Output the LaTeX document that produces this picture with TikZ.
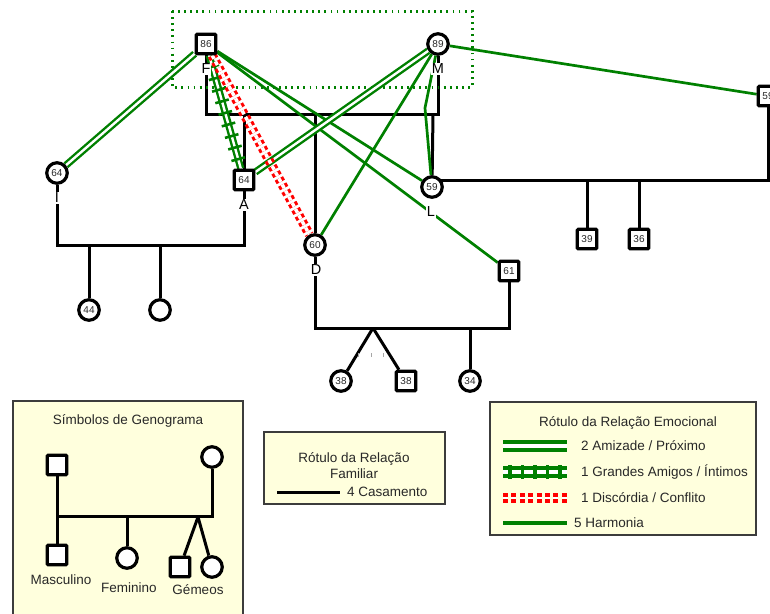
\documentclass[tikz,border=0pt]{standalone}
\usepackage{fontspec}
\setmainfont{Liberation Sans}
\usetikzlibrary{backgrounds,decorations.markings}
\definecolor{gr}{RGB}{0,128,0}
\definecolor{rd}{RGB}{255,0,0}
\definecolor{beige}{RGB}{255,255,221}
\definecolor{bord}{RGB}{60,60,60}
\definecolor{txt}{RGB}{40,40,40}
\tikzset{
  male/.style={draw, line width=3.2pt, fill=white, minimum size=19.5pt, inner sep=0pt,
    rounded corners=1pt, font=\fontsize{10}{10}\selectfont, text=txt},
  female/.style={male, circle, minimum size=20.5pt},
  lbl/.style={fill=white, inner sep=0.6pt, font=\fontsize{14.5}{15}\selectfont},
  fam/.style={line width=3pt, black},
  harm/.style={draw=gr, line width=2.7pt},
  closerel/.style={draw=gr, line width=2.4pt, double=white, double distance=2.4pt},
  closeleg/.style={draw=gr, line width=3.3pt, double=white, double distance=4.6pt},
  discord/.style={draw=rd, line width=3pt, double=white, double distance=3.4pt, dash pattern=on 4pt off 3pt},
  discleg/.style={draw=rd, line width=3.3pt, double=white, double distance=2.8pt, dash pattern=on 5pt off 3.4pt},
  hatchmarks/.style={decorate, decoration={markings,
      mark=between positions 0.1 and 0.92 step 12pt with {\fill[gr] (-1.3pt,-7pt) rectangle (1.3pt,7pt);}}},
  legbox/.style={draw=bord, line width=1.3pt, fill=beige},
  legtxt/.style={font=\fontsize{13.5}{16}\selectfont, text=txt, inner sep=0pt},
}
\begin{document}
\begin{tikzpicture}[x=1pt,y=-1pt]
\useasboundingbox (0,0) rectangle (770,613);

% ---------- people ----------
\node[male] (F) at (206,44) {86};
\node[female] (M) at (438,44) {89};
\node[female] (I) at (57,173) {64};
\node[male] (A) at (244,180) {64};
\node[female] (D) at (315,245) {60};
\node[female] (L) at (432,187) {59};
\node[male] (S59) at (768,96) {59};
\node[male] (N61) at (509,271) {61};
\node[female] (c44) at (89,310) {44};
\node[female] (c0) at (160,310) {};
\node[male] (s39) at (587,239) {39};
\node[male] (s36) at (639,239) {36};
\node[female] (t38a) at (341,381) {38};
\node[male] (t38b) at (406,381) {38};
\node[female] (c34) at (470,381) {34};

\node[lbl] (Flbl) at (206,69) {F};
\node[lbl] (Mlbl) at (438,69) {M};
\node[lbl] (Ilbl) at (57,198) {I};
\node[lbl] (Albl) at (244,205) {A};
\node[lbl] (Dlbl) at (316,270) {D};
\node[lbl] (Llbl) at (431,212) {L};

\coordinate (fmbar) at (0,114);
\coordinate (iabar) at (0,245);
\coordinate (lsbar) at (0,180);
\coordinate (dnbar) at (0,328);
\coordinate (tapex) at (373,328);
\coordinate (mlk) at (425,108);
\coordinate (ldrop) at (433,114);

% ---------- legend texts and symbols ----------
\node[legtxt] (ttl1) at (128,421) {Símbolos de Genograma};
\node[male] (ls1) at (57,465) {};
\node[female] (lc1) at (212,457) {};
\node[male] (ls2) at (57,555) {};
\node[female] (lc2) at (127,558) {};
\node[male] (ls3) at (180,567) {};
\node[female] (lc3) at (212,567) {};
\coordinate (lbar) at (0,516);
\coordinate (lapex) at (198,517);
\node[legtxt] (lmasc) at (61,580) {Masculino};
\node[legtxt] (lfem) at (129,588) {Feminino};
\node[legtxt] (lgem) at (198,590) {Gémeos};

\node[legtxt, align=center] (ttl2) at (354,465.5) {Rótulo da Relação\\Familiar};
\coordinate (cas1) at (277,492);
\coordinate (cas2) at (340,492);
\node[legtxt, anchor=west] (tcas) at (347,492) {4 Casamento};

\node[legtxt] (ttl3) at (628,423) {Rótulo da Relação Emocional};
\coordinate (e1a) at (503,446); \coordinate (e1b) at (567,446);
\coordinate (e2a) at (503,472); \coordinate (e2b) at (567,472);
\coordinate (e3a) at (503,498); \coordinate (e3b) at (567,498);
\coordinate (e4a) at (503,523); \coordinate (e4b) at (567,523);
\node[legtxt, anchor=west] (t1) at (581,446) {2 Amizade / Próximo};
\node[legtxt, anchor=west] (t2) at (581,472) {1 Grandes Amigos / Íntimos};
\node[legtxt, anchor=west] (t3) at (581,498) {1 Discórdia / Conflito};
\node[legtxt, anchor=west] (t4) at (574,523) {5 Harmonia};

\begin{pgfonlayer}{background}
\fill[white] (0,0) rectangle (770,613);
\draw[legbox] (13,401) rectangle (243,620);
\draw[legbox] (264,432) rectangle (445,504);
\draw[legbox] (490,402) rectangle (756,535);
% family lines
\draw[fam] (F) -- (F |- fmbar) -- (M |- fmbar) -- (M);
\draw[fam] (A) -- (A |- fmbar);
\draw[fam] (D) -- (D |- fmbar);
\draw[fam] (L) -- (ldrop);
\draw[fam] (I) -- (I |- iabar) -- (A |- iabar) -- (A);
\draw[fam] (c44) -- (c44 |- iabar);
\draw[fam] (c0) -- (c0 |- iabar);
\draw[fam] (L.center |- lsbar) -- (S59 |- lsbar) -- (S59);
\draw[fam] (s39) -- (s39 |- lsbar);
\draw[fam] (s36) -- (s36 |- lsbar);
\draw[fam] (D) -- (D |- dnbar) -- (N61 |- dnbar) -- (N61);
\draw[fam] (tapex) -- (t38a);
\draw[fam] (tapex) -- (t38b);
\draw[fam] (c34) -- (c34 |- dnbar);
\draw[black!35, line width=0.8pt] (358,353) -- (358,357) (371,353) -- (371,357) (383,353) -- (383,357);
% focus box
\draw[gr, line width=3pt, dash pattern=on 1.8pt off 4.3pt] (172,11) rectangle (472,87);
% emotional lines
\draw[harm] (F) -- (L);
\draw[harm] (F) -- (N61);
\draw[harm] (M) -- (D);
\draw[harm] (M) -- (mlk) -- (L);
\draw[harm] (M) -- (S59);
\draw[closerel] (F) -- (I);
\draw[closerel] (M) -- (A);
\draw[closerel] (F) -- (A);
\path[hatchmarks] (F) -- (A);
\draw[discord] (F) -- (D);
% legend lines
\draw[fam] (ls1) -- (ls1 |- lbar) -- (lc1 |- lbar) -- (lc1);
\draw[fam] (ls2) -- (ls2 |- lbar);
\draw[fam] (lc2) -- (lc2 |- lbar);
\draw[fam] (lapex) -- (ls3);
\draw[fam] (lapex) -- (lc3);
\draw[fam] (cas1) -- (cas2);
\draw[closeleg] (e1a) -- (e1b);
\draw[closeleg] (e2a) -- (e2b);
\path[decorate, decoration={markings, mark=between positions 7pt and 60pt step 12.5pt with {\fill[gr] (-1.6pt,-7pt) rectangle (1.6pt,7pt);}}] (e2a) -- (e2b);
\draw[discleg] (e3a) -- (e3b);
\draw[harm, line width=3.3pt] (e4a) -- (e4b);
\end{pgfonlayer}
\end{tikzpicture}
\end{document}
